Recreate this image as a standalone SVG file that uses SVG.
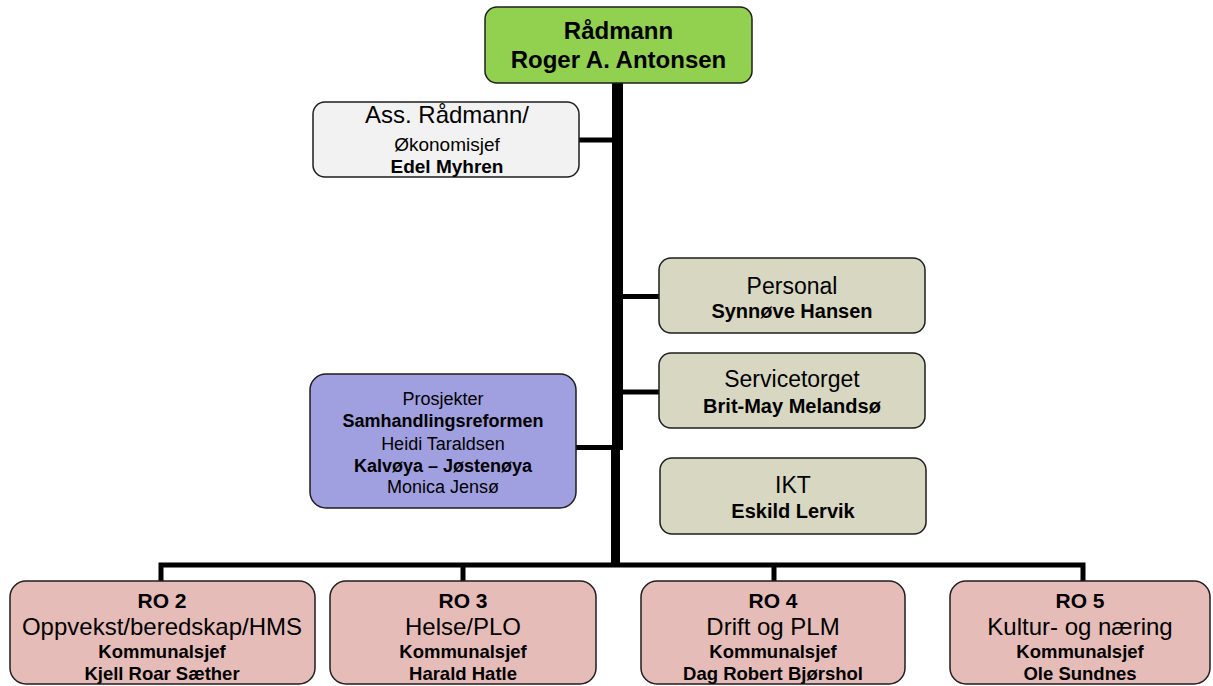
<svg xmlns="http://www.w3.org/2000/svg" width="1213" height="686" viewBox="0 0 1213 686">
<style>
.box{stroke:#1e1e1e;stroke-width:1.5}
.g{fill:#92D050}.a{fill:#F2F2F2}.b{fill:#D8D8C2}.p{fill:#A09FDF}.r{fill:#E6BCB8}
text{font-family:"Liberation Sans",Arial,sans-serif;fill:#000;text-anchor:middle}
.bd{font-weight:bold}
.ln{stroke:#000;fill:none}
</style>
<rect width="1213" height="686" fill="#fff"/>
<g id="connectors">
<rect x="612" y="83" width="11" height="367" fill="#000"/>
<rect x="611" y="449" width="9" height="118" fill="#000"/>
<line class="ln" x1="579" y1="140" x2="612" y2="140" stroke-width="5"/>
<line class="ln" x1="622" y1="296.5" x2="659" y2="296.5" stroke-width="5"/>
<line class="ln" x1="622" y1="392" x2="659" y2="392" stroke-width="5"/>
<line class="ln" x1="576" y1="447.5" x2="612" y2="447.5" stroke-width="5"/>
<polyline class="ln" points="161,581 161,565 1083,565 1083,581" stroke-width="5"/>
<line class="ln" x1="463" y1="565" x2="463" y2="581" stroke-width="5"/>
<line class="ln" x1="774" y1="565" x2="774" y2="581" stroke-width="5"/>
</g>
<g id="radmann">
<rect class="box g" x="485" y="7" width="267" height="76" rx="12"/>
<text class="bd" x="618.5" y="39" font-size="24">Rådmann</text>
<text class="bd" x="618.5" y="68" font-size="24">Roger A. Antonsen</text>
</g>
<g id="ass-radmann">
<rect class="box a" x="313" y="102" width="266" height="75" rx="12"/>
<text x="447" y="123" font-size="24">Ass. Rådmann/</text>
<text x="447" y="151" font-size="19">Økonomisjef</text>
<text class="bd" x="447" y="173" font-size="19">Edel Myhren</text>
</g>
<g id="personal">
<rect class="box b" x="659" y="258" width="266" height="75" rx="12"/>
<text x="792" y="294" font-size="23">Personal</text>
<text class="bd" x="792" y="318" font-size="20">Synnøve Hansen</text>
</g>
<g id="servicetorget">
<rect class="box b" x="659" y="353" width="266" height="75" rx="12"/>
<text x="792" y="387" font-size="23">Servicetorget</text>
<text class="bd" x="792" y="413" font-size="20">Brit-May Melandsø</text>
</g>
<g id="ikt">
<rect class="box b" x="660" y="458" width="266" height="76" rx="12"/>
<text x="793" y="493" font-size="23">IKT</text>
<text class="bd" x="793" y="518" font-size="20">Eskild Lervik</text>
</g>
<g id="prosjekter">
<rect class="box p" x="310" y="374" width="266" height="134" rx="16"/>
<text x="443" y="405" font-size="18">Prosjekter</text>
<text class="bd" x="443" y="427" font-size="18">Samhandlingsreformen</text>
<text x="443" y="450" font-size="18">Heidi Taraldsen</text>
<text class="bd" x="443" y="472" font-size="18">Kalvøya – Jøstenøya</text>
<text x="443" y="493" font-size="18">Monica Jensø</text>
</g>
<g id="ro2">
<rect class="box r" x="10" y="581" width="305" height="103" rx="16"/>
<text class="bd" x="162" y="608" font-size="21">RO 2</text>
<text x="162" y="635" font-size="24">Oppvekst/beredskap/HMS</text>
<text class="bd" x="162" y="658" font-size="18.5">Kommunalsjef</text>
<text class="bd" x="162" y="680" font-size="18.5">Kjell Roar Sæther</text>
</g>
<g id="ro3">
<rect class="box r" x="330" y="581" width="266" height="103" rx="16"/>
<text class="bd" x="463" y="608" font-size="21">RO 3</text>
<text x="463" y="635" font-size="24">Helse/PLO</text>
<text class="bd" x="463" y="658" font-size="18.5">Kommunalsjef</text>
<text class="bd" x="463" y="680" font-size="18.5">Harald Hatle</text>
</g>
<g id="ro4">
<rect class="box r" x="641" y="581" width="264" height="103" rx="16"/>
<text class="bd" x="773" y="608" font-size="21">RO 4</text>
<text x="773" y="635" font-size="24">Drift og PLM</text>
<text class="bd" x="773" y="658" font-size="18.5">Kommunalsjef</text>
<text class="bd" x="773" y="680" font-size="18.5">Dag Robert Bjørshol</text>
</g>
<g id="ro5">
<rect class="box r" x="950" y="581" width="260" height="103" rx="16"/>
<text class="bd" x="1080" y="608" font-size="21">RO 5</text>
<text x="1080" y="635" font-size="24">Kultur- og næring</text>
<text class="bd" x="1080" y="658" font-size="18.5">Kommunalsjef</text>
<text class="bd" x="1080" y="680" font-size="18.5">Ole Sundnes</text>
</g>
</svg>
